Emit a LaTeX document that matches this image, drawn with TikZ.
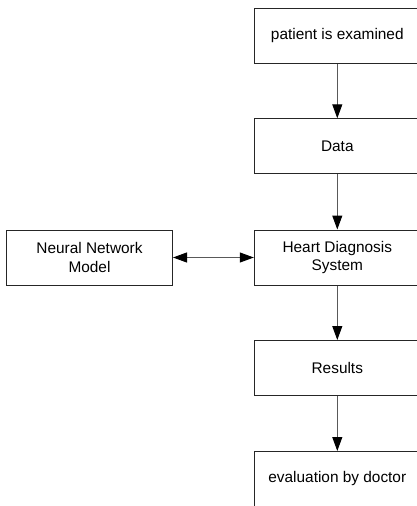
\documentclass[tikz,border=0pt]{standalone}
\usepackage{fontspec}
\setmainfont{Liberation Sans}
\usetikzlibrary{arrows.meta}
\begin{document}
\begin{tikzpicture}[x=1pt,y=-1pt,
  box/.style={draw=black!85,line width=1pt,minimum width=166pt,minimum height=55pt,
    inner sep=0pt,align=center,font=\fontsize{15.4}{18.8}\selectfont},
  tip/.style={Triangle[length=14pt,width=10pt,color=black]},
  arr/.style={draw=black!65,line width=1pt,-{Triangle[length=14pt,width=10pt,color=black]}},
  barr/.style={draw=black!65,line width=1pt,{Triangle[length=14pt,width=10pt,color=black]}-{Triangle[length=14pt,width=10pt,color=black]}}]
\useasboundingbox (0,0) rectangle (417,506);
\clip (0,0) rectangle (417,506);
\node[box] (exam) at (337.3,36) {patient is examined};
\node[box] (data) at (337.3,146.3) {Data};
\node[box] (hds) at (337.3,257.5) {Heart Diagnosis\\System};
\node[box] (nn) at (89.5,257.5) {Neural Network\\Model};
\node[box] (res) at (337.3,368) {Results};
\node[box] (eval) at (337.3,479) {evaluation by doctor};
\draw[arr] (exam) -- (data);
\draw[arr] (data) -- (hds);
\draw[arr] (hds) -- (res);
\draw[arr] (res) -- (eval);
\draw[barr] (nn) -- (hds);
\end{tikzpicture}
\end{document}
